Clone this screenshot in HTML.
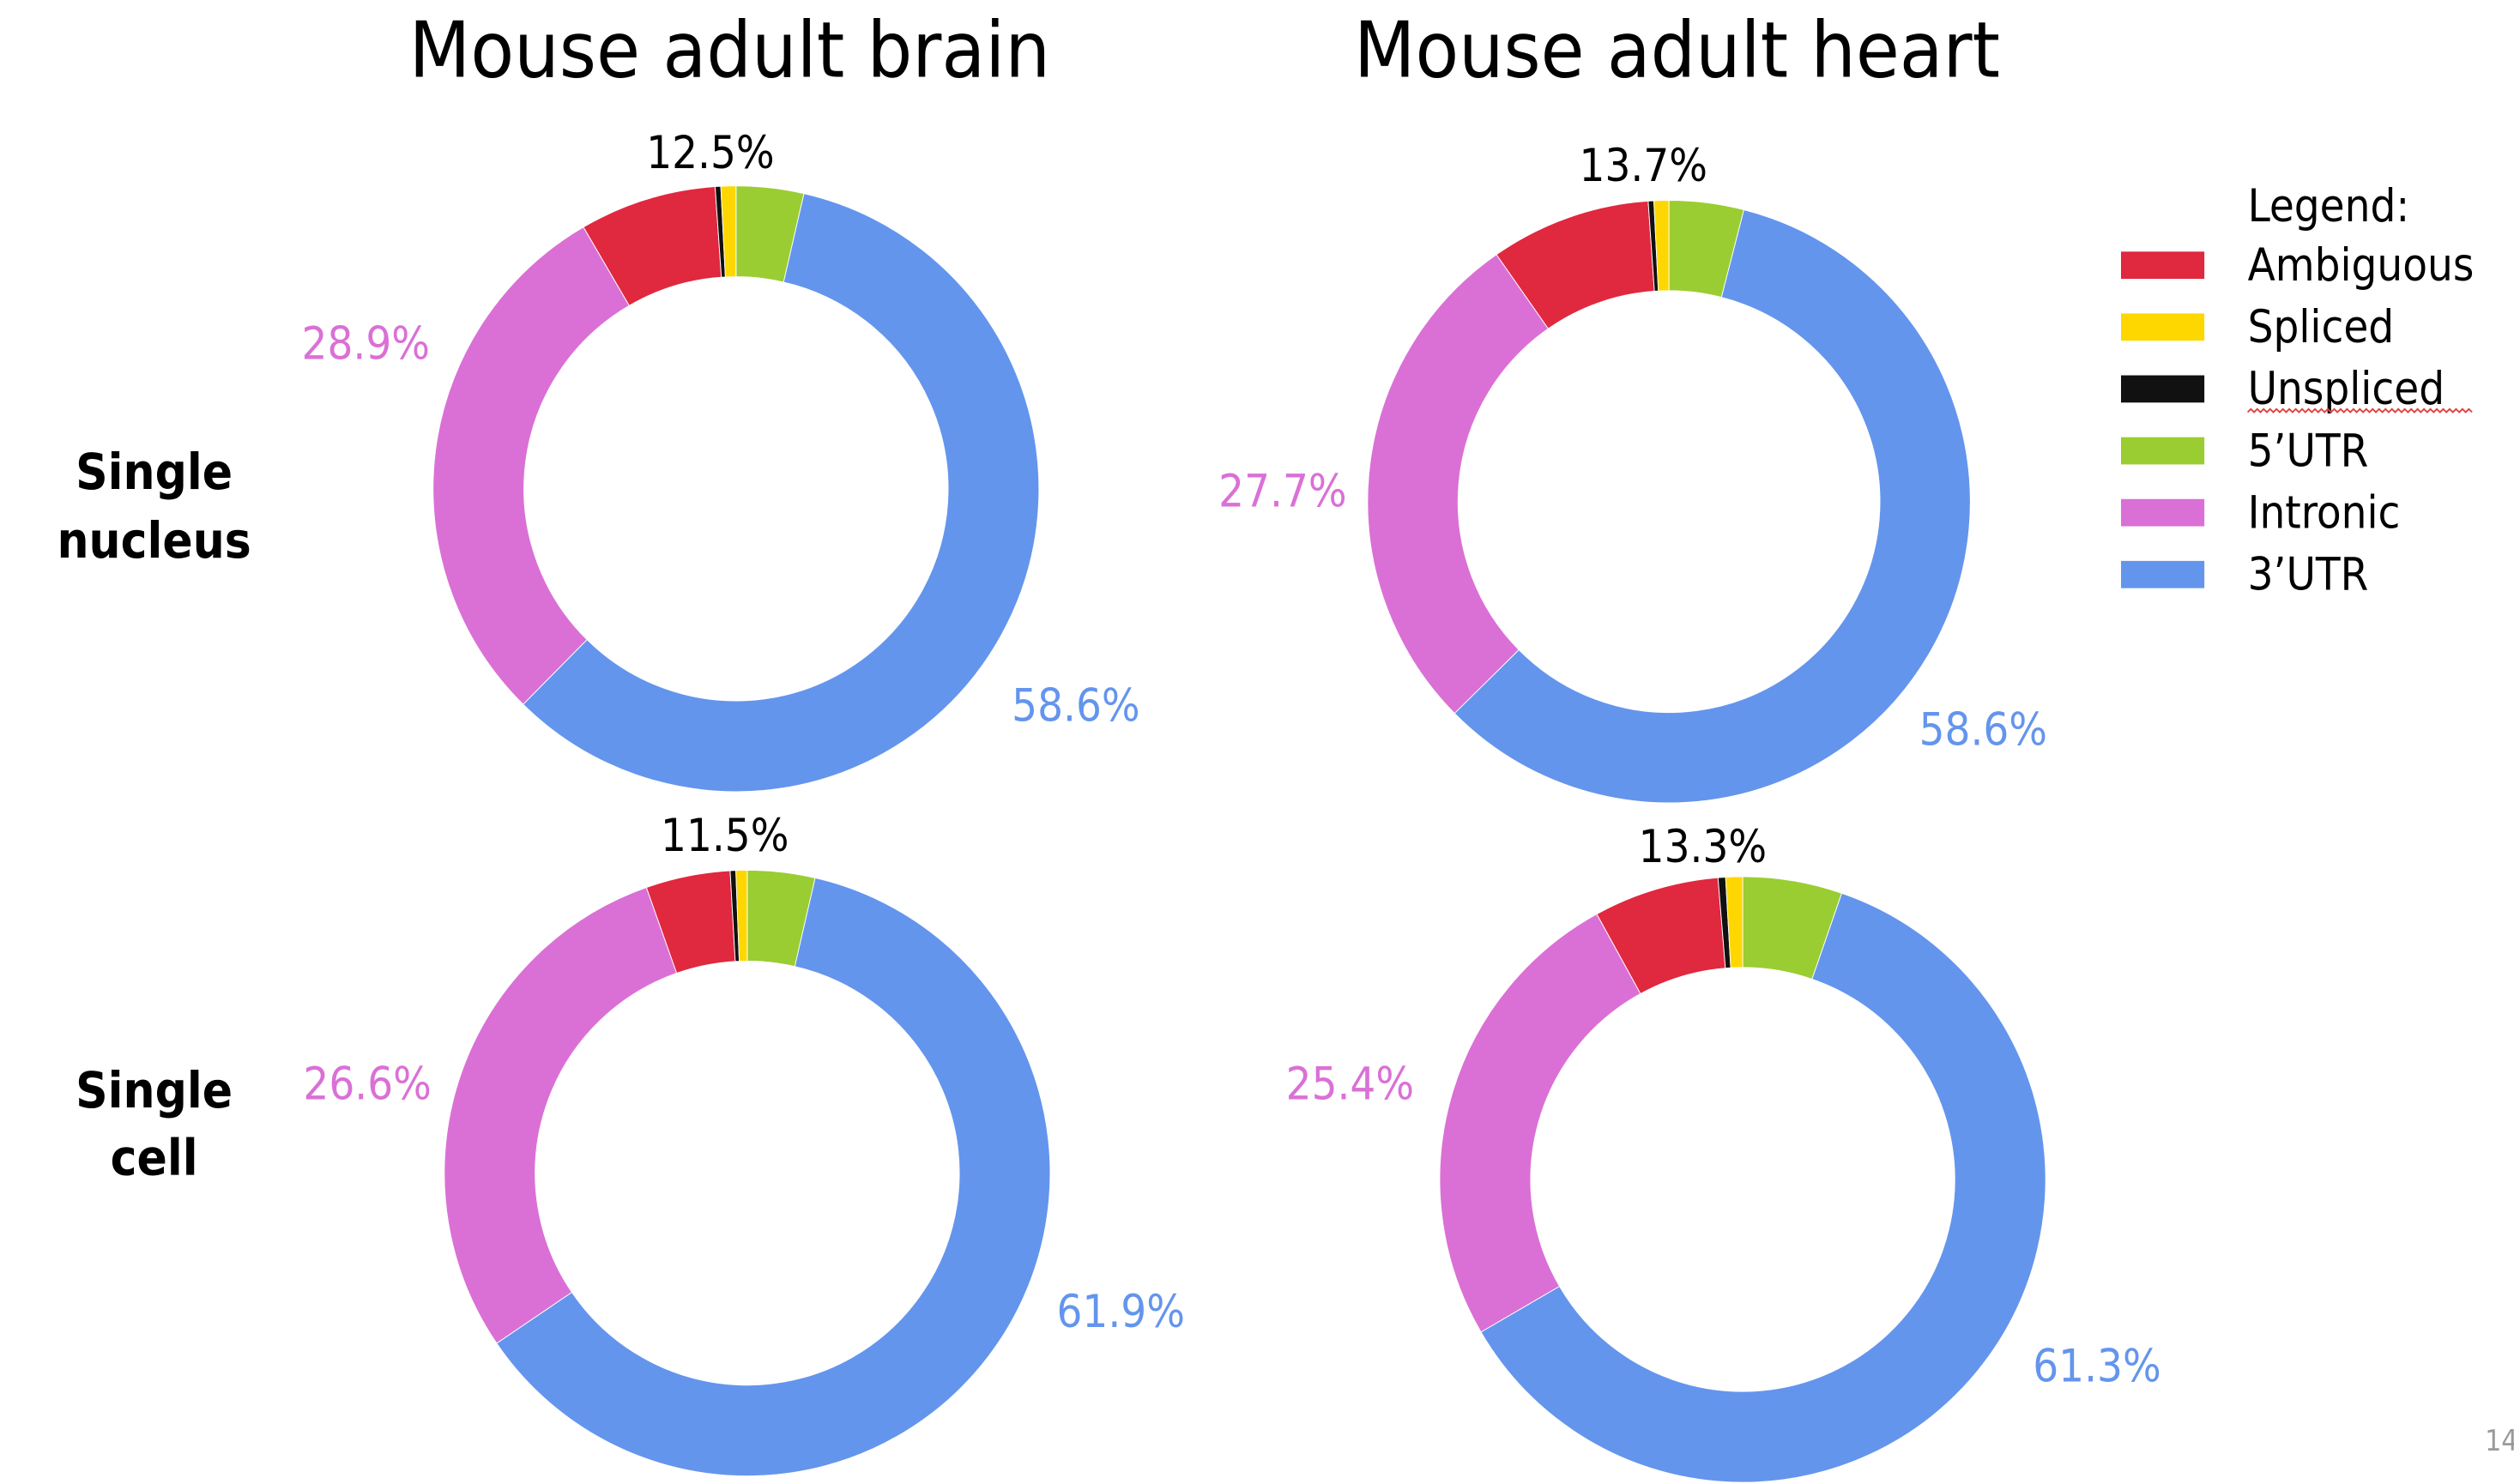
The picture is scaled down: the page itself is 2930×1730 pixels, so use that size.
<!DOCTYPE html>
<html><head><meta charset="utf-8">
<style>
html,body{margin:0;padding:0;background:#fff;}
svg{display:block;}
text{font-family:"DejaVu Sans Condensed","Liberation Sans",sans-serif;}
</style></head>
<body>
<svg id="chart" width="2930" height="1730" viewBox="0 0 1568 926" xmlns="http://www.w3.org/2000/svg">
  <rect width="1568" height="926" fill="#fff"/>
  <text x="455" y="48" font-size="48" text-anchor="middle" textLength="400" lengthAdjust="spacingAndGlyphs" fill="#000">Mouse adult brain</text>
  <text x="1046" y="48" font-size="48" text-anchor="middle" textLength="403" lengthAdjust="spacingAndGlyphs" fill="#000">Mouse adult heart</text>

  <g font-weight="bold" font-size="31" text-anchor="middle" fill="#000">
    <text x="96" y="305">Single</text>
    <text x="96" y="348">nucleus</text>
    <text x="96" y="691">Single</text>
    <text x="96" y="733">cell</text>
  </g>

  <g id="donuts"></g>

  <g id="legend">
    <text x="1402" y="138" font-size="28" fill="#000">Legend:</text>
  </g>
  <text x="1550" y="905" font-size="18" fill="#999">14</text>
</svg>
<script>
// Data arrays
const categories = ["Ambiguous","Spliced","Unspliced","5'UTR","Intronic","3'UTR"];
const colors = ["#E0283F","#FFD700","#111111","#9ACD32","#DA70D6","#6495ED"];
// values per chart (percent), order matches categories
const brainNucleus = [7.3, 0.8, 0.3, 3.6, 29.2, 58.8];
const heartNucleus = [8.6, 0.8, 0.3, 4.0, 27.7, 58.6];
const brainCell    = [4.5, 0.6, 0.3, 3.6, 29.1, 61.9];
const heartCell    = [6.7, 0.9, 0.4, 5.3, 25.4, 61.3];
const smallLabels  = ["12.5%","13.7%","11.5%","13.3%"];
const intronLabels = ["28.9%","27.7%","26.6%","25.4%"];
const utr3Labels   = ["58.6%","58.6%","61.9%","61.3%"];

const NS = "http://www.w3.org/2000/svg";
const series = [brainNucleus, heartNucleus, brainCell, heartCell];
const names = ["brain-nucleus","heart-nucleus","brain-cell","heart-cell"];
const layout = [
  {cx:459, cy:305, r:189, smallX:443, smallY:105, inX:228, inY:224, utrX:671, utrY:450},
  {cx:1041,cy:313, r:188, smallX:1025,smallY:113, inX:800, inY:316, utrX:1237,utrY:465},
  {cx:466, cy:732, r:189, smallX:452, smallY:531, inX:229, inY:686, utrX:699, utrY:828},
  {cx:1087,cy:736, r:189, smallX:1062,smallY:538, inX:842, inY:686, utrX:1308,utrY:862}
];
// clockwise drawing order starting at 12 o'clock: 5'UTR, 3'UTR, Intronic, Ambiguous, Unspliced, Spliced
const drawOrder = [3,5,4,0,2,1];
const innerFrac = 0.70;

function pt(cx,cy,r,a){ return [cx + r*Math.sin(a), cy - r*Math.cos(a)]; }

const g = document.getElementById('donuts');
series.forEach((vals, ci) => {
  const L = layout[ci];
  const total = vals.reduce((s,v)=>s+v,0);
  const ri = L.r*innerFrac;
  let acc = 0;
  const grp = document.createElementNS(NS,'g');
  
  
  g.appendChild(grp);
  drawOrder.forEach(idx => {
    const a0 = acc/total*2*Math.PI;
    acc += vals[idx];
    const a1 = acc/total*2*Math.PI;
    const large = (a1-a0) > Math.PI ? 1 : 0;
    const p0 = pt(L.cx,L.cy,L.r,a0), p1 = pt(L.cx,L.cy,L.r,a1);
    const q1 = pt(L.cx,L.cy,ri,a1), q0 = pt(L.cx,L.cy,ri,a0);
    const d = `M${p0[0]},${p0[1]} A${L.r},${L.r} 0 ${large} 1 ${p1[0]},${p1[1]} L${q1[0]},${q1[1]} A${ri},${ri} 0 ${large} 0 ${q0[0]},${q0[1]} Z`;
    const path = document.createElementNS(NS,'path');
    path.setAttribute('d', d);
    path.setAttribute('fill', colors[idx]);
    path.setAttribute('stroke', '#fff');
    path.setAttribute('stroke-width', '0.5');
    
    
    grp.appendChild(path);
  });
  const mk = (txt,x,y,fill,name,anchor) => {
    const t = document.createElementNS(NS,'text');
    t.setAttribute('x', x); t.setAttribute('y', y);
    t.setAttribute('font-size', '28');
    t.setAttribute('fill', fill);
    t.setAttribute('text-anchor', anchor);
    t.textContent = txt;
    
    
    grp.appendChild(t);
  };
  mk(smallLabels[ci], L.smallX, L.smallY, '#000', 'label-small-' + names[ci], 'middle');
  mk(intronLabels[ci], L.inX, L.inY, '#DA70D6', 'label-intronic-' + names[ci], 'middle');
  mk(utr3Labels[ci], L.utrX, L.utrY, '#6495ED', 'label-3utr-' + names[ci], 'middle');
});

// legend
const lg = document.getElementById('legend');
categories.forEach((c, i) => {
  const y = 165 + i*38.6;
  const r = document.createElementNS(NS,'rect');
  r.setAttribute('x', 1323); r.setAttribute('y', y-8);
  r.setAttribute('width', 52); r.setAttribute('height', 17);
  r.setAttribute('fill', colors[i]);
  
  
  lg.appendChild(r);
  const t = document.createElementNS(NS,'text');
  t.setAttribute('x', 1402); t.setAttribute('y', y+10);
  t.setAttribute('font-size', '28');
  t.setAttribute('fill', '#000');
  t.textContent = c.replace("'", "\u2019");
  
  
  lg.appendChild(t);
  if (c === 'Unspliced') {
    const u = document.createElementNS(NS,'path');
    let d = 'M1402,' + (y+15);
    for (let x = 1402; x < 1542; x += 4) d += ` L${x+2},${y+13} L${x+4},${y+15}`;
    u.setAttribute('d', d);
    u.setAttribute('stroke', '#e04040');
    u.setAttribute('fill', 'none');
    u.setAttribute('stroke-width', '1');
    
    
    lg.appendChild(u);
  }
});
</script>
</body></html>
